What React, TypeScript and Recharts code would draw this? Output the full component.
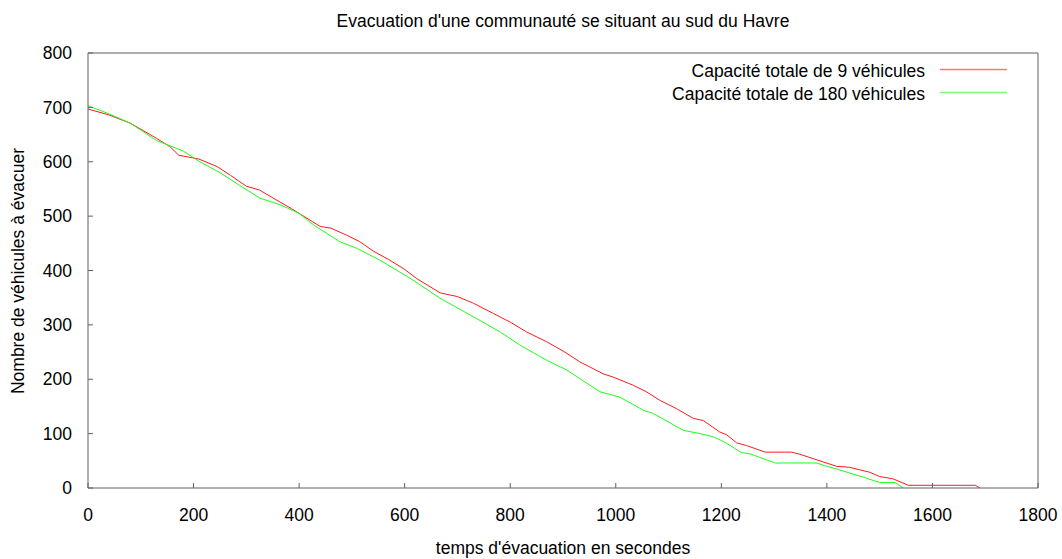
import { LineChart, Line, XAxis, YAxis, Legend } from 'recharts'

// capacité totale de 9 véhicules : [temps (s), véhicules restants]
const redTimes = [0, 40, 80, 130, 155, 172, 210, 245, 270, 300, 325, 360, 385, 440, 460, 490, 515, 540, 570, 600, 623, 667, 700, 730, 768, 800, 831, 869, 900, 932, 976, 995, 1033, 1058, 1084, 1115, 1147, 1166, 1197, 1210, 1229, 1248, 1283, 1333, 1349, 1393, 1418, 1443, 1481, 1500, 1525, 1554, 1681, 1690]
const redValues = [697, 686, 671, 643, 628, 612, 605, 591, 575, 555, 548, 528, 514, 481, 478, 465, 453, 436, 420, 402, 385, 359, 352, 340, 321, 305, 287, 269, 252, 232, 210, 204, 189, 177, 161, 146, 128, 124, 103, 98, 83, 78, 66, 66, 62, 48, 40, 38, 29, 21, 17, 5, 5, 0]

// capacité totale de 180 véhicules
const greenTimes = [0, 40, 80, 130, 180, 212, 250, 290, 326, 364, 400, 427, 477, 509, 553, 610, 667, 730, 781, 818, 869, 907, 970, 1008, 1052, 1071, 1128, 1160, 1185, 1207, 1222, 1238, 1254, 1302, 1381, 1396, 1418, 1469, 1500, 1529, 1545]
const greenValues = [703, 688, 671, 639, 620, 600, 580, 555, 533, 521, 505, 484, 453, 441, 419, 386, 349, 315, 287, 263, 235, 217, 177, 167, 143, 137, 106, 100, 94, 84, 75, 65, 63, 46, 46, 41, 35, 20, 10, 10, 0]

const seriesNames = ['Capacité totale de 9 véhicules', 'Capacité totale de 180 véhicules']
const seriesColors = ['#ff1a1a', '#1aff1a']

const xTicks = [0, 200, 400, 600, 800, 1000, 1200, 1400, 1600, 1800]
const yTicks = [0, 100, 200, 300, 400, 500, 600, 700, 800]

const redData = redTimes.map((t, i) => ({ t, v: redValues[i] }))
const greenData = greenTimes.map((t, i) => ({ t, v: greenValues[i] }))

const font = '"Liberation Sans", Arial, sans-serif'
const fontSize = 17.5
const axisColor = '#606060'

function LegendBox() {
    // same order as gnuplot: 9 véhicules first
    return (
        <div style={{ fontFamily: font, fontSize, color: '#000' }}>
            {seriesNames.map((name, i) => (
                <div key={name} style={{ display: 'flex', justifyContent: 'flex-end', alignItems: 'center', height: 23 }}>
                    <span>{name}</span>
                    <svg width={67} height={23} style={{ marginLeft: 15 }}>
                        <line x1={0} x2={67} y1={9.5} y2={9.5} stroke={seriesColors[i]} strokeOpacity={0.6} strokeWidth={1.5} />
                    </svg>
                </div>
            ))}
        </div>
    )
}

export default function App() {
    const tickStyle = { fill: '#000', fontSize, fontFamily: font }

    return (
        <div style={{ position: 'absolute', left: 0, top: 0, width: 1062, height: 559, background: '#fff', fontFamily: font }}>
            <div style={{ position: 'absolute', left: 88, width: 950, top: 11, textAlign: 'center', fontSize }}>
                Evacuation d'une communauté se situant au sud du Havre
            </div>
            <div style={{ position: 'absolute', left: 88, width: 950, top: 538, textAlign: 'center', fontSize }}>
                temps d'évacuation en secondes
            </div>
            <div style={{ position: 'absolute', left: 18 - 150, top: 271 - 10, width: 300, height: 20, lineHeight: '20px', textAlign: 'center', fontSize, transform: 'rotate(-90deg)' }}>
                Nombre de véhicules à évacuer
            </div>
            <LineChart
                width={1062}
                height={559}
                margin={{ top: 52, right: 23, left: 0, bottom: 0 }}
                style={{ position: 'absolute', left: 0, top: 0 }}
            >
                <XAxis
                    xAxisId="bottom"
                    dataKey="t"
                    type="number"
                    domain={[0, 1800]}
                    ticks={xTicks}
                    interval={0}
                    height={71}
                    tickSize={-5}
                    tickMargin={26}
                    tick={tickStyle}
                    stroke={axisColor}
                    allowDataOverflow
                />
                <XAxis
                    xAxisId="top"
                    orientation="top"
                    type="number"
                    domain={[0, 1800]}
                    ticks={xTicks}
                    interval={0}
                    height={1}
                    tickSize={-5}
                    tick={false}
                    stroke={axisColor}
                    allowDataOverflow
                />
                <YAxis
                    yAxisId="left"
                    type="number"
                    domain={[0, 800]}
                    ticks={yTicks}
                    interval={0}
                    width={88}
                    tickSize={-5}
                    tickMargin={21}
                    tick={tickStyle}
                    stroke={axisColor}
                    allowDataOverflow
                />
                <YAxis
                    yAxisId="right"
                    orientation="right"
                    type="number"
                    domain={[0, 800]}
                    ticks={yTicks}
                    interval={0}
                    width={1}
                    tickSize={-5}
                    tick={false}
                    stroke={axisColor}
                    allowDataOverflow
                />
                <Legend
                    layout="horizontal"
                    align="center"
                    verticalAlign="middle"
                    content={<LegendBox />}
                    wrapperStyle={{ position: 'absolute', left: 500, top: 60, width: 507 }}
                />
                <Line
                    xAxisId="bottom"
                    yAxisId="left"
                    data={redData}
                    dataKey="v"
                    name={seriesNames[0]}
                    type="linear"
                    stroke={seriesColors[0]}
                    strokeWidth={1}
                    dot={false}
                    isAnimationActive={false}
                />
                <Line
                    xAxisId="bottom"
                    yAxisId="left"
                    data={greenData}
                    dataKey="v"
                    name={seriesNames[1]}
                    type="linear"
                    stroke={seriesColors[1]}
                    strokeWidth={1}
                    dot={false}
                    isAnimationActive={false}
                />
            </LineChart>
        </div>
    )
}
